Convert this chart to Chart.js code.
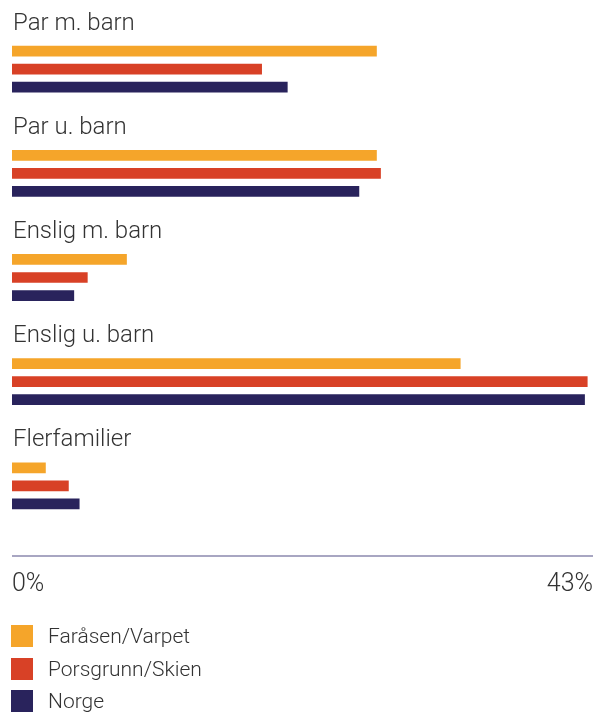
<!DOCTYPE html>
<html>
<head>
<meta charset="utf-8">
<script src="https://cdn.jsdelivr.net/npm/chart.js@4/dist/chart.umd.min.js"></script>
<style>
  html, body { margin: 0; padding: 0; background: #fff; }
  #wrap { position: relative; width: 603px; height: 632px; }
  #legend { position: absolute; left: 11px; top: 625px; font-family: Roboto, "Liberation Sans", sans-serif; font-weight: 300; color: #333; }
  .item { display: flex; align-items: center; height: 22px; margin-bottom: 10.5px; }
  .sw { width: 22px; height: 22px; display: inline-block; }
  .tx { margin-left: 15px; font-size: 21px; line-height: 22px; }
</style>
</head>
<body>
<div id="wrap"><canvas id="c"></canvas></div>
<div id="legend"></div>
<script>
const categories = ['Par m. barn', 'Par u. barn', 'Enslig m. barn', 'Enslig u. barn', 'Flerfamilier'];
const seriesNames = ['Faråsen/Varpet', 'Porsgrunn/Skien', 'Norge'];
const faraasen = [27.0, 27.0, 8.5, 33.2, 2.5];
const porsgrunn = [18.5, 27.3, 5.6, 42.6, 4.2];
const norge = [20.4, 25.7, 4.6, 42.4, 5.0];
const xTicks = [0, 43];
const colors = ['#F5A52A', '#D84126', '#29235C'];

const FONT = 'Roboto, "Liberation Sans", sans-serif';

const axisLine = {
  id: 'axisLine',
  afterDraw(chart) {
    const {ctx, chartArea, scales} = chart;
    const y = chartArea.bottom + 18;
    ctx.save();
    ctx.strokeStyle = '#8b89ae';
    ctx.lineWidth = 1.5;
    ctx.beginPath();
    ctx.moveTo(scales.x.getPixelForValue(xTicks[0]), y);
    ctx.lineTo(scales.x.getPixelForValue(xTicks[xTicks.length - 1]), y);
    ctx.stroke();
    ctx.restore();
  }
};

const chart = new Chart(document.getElementById('c'), {
  type: 'bar',
  data: {
    labels: categories,
    datasets: [
      { label: seriesNames[0], data: faraasen, backgroundColor: colors[0] },
      { label: seriesNames[1], data: porsgrunn, backgroundColor: colors[1] },
      { label: seriesNames[2], data: norge, backgroundColor: colors[2] }
    ]
  },
  options: {
    indexAxis: 'y',
    responsive: true,
    maintainAspectRatio: false,
    animation: false,
    categoryPercentage: 0.519,
    barPercentage: 0.594,
    layout: { padding: { top: 17, left: 10, right: 10, bottom: 0 } },
    plugins: {
      legend: { display: false },
      tooltip: { enabled: false }
    },
    scales: {
      x: {
        min: 0, max: 43,
        grid: { display: false, drawTicks: false },
        border: { display: false },
        afterBuildTicks: (s) => { s.ticks = xTicks.map(v => ({ value: v })); },
        ticks: {
          align: 'inner',
          padding: 3,
          color: '#333',
          font: { family: FONT, size: 25, weight: 300, lineHeight: '88px' },
          callback: (v) => v + '%'
        }
      },
      y: {
        type: 'category',
        offset: true,
        grid: { display: false, drawTicks: false },
        border: { display: false },
        ticks: {
          mirror: true,
          padding: 1,
          labelOffset: -45.5,
          color: '#333',
          font: { family: FONT, size: 24, weight: 300 }
        }
      }
    }
  },
  plugins: [axisLine]
});

const legendEl = document.getElementById('legend');
chart.data.datasets.forEach((ds) => {
  const item = document.createElement('div');
  item.className = 'item';
  const sw = document.createElement('span');
  sw.className = 'sw';
  sw.style.background = ds.backgroundColor;
  const tx = document.createElement('span');
  tx.className = 'tx';
  tx.textContent = ds.label;
  item.appendChild(sw);
  item.appendChild(tx);
  legendEl.appendChild(item);
});
</script>
</body>
</html>
